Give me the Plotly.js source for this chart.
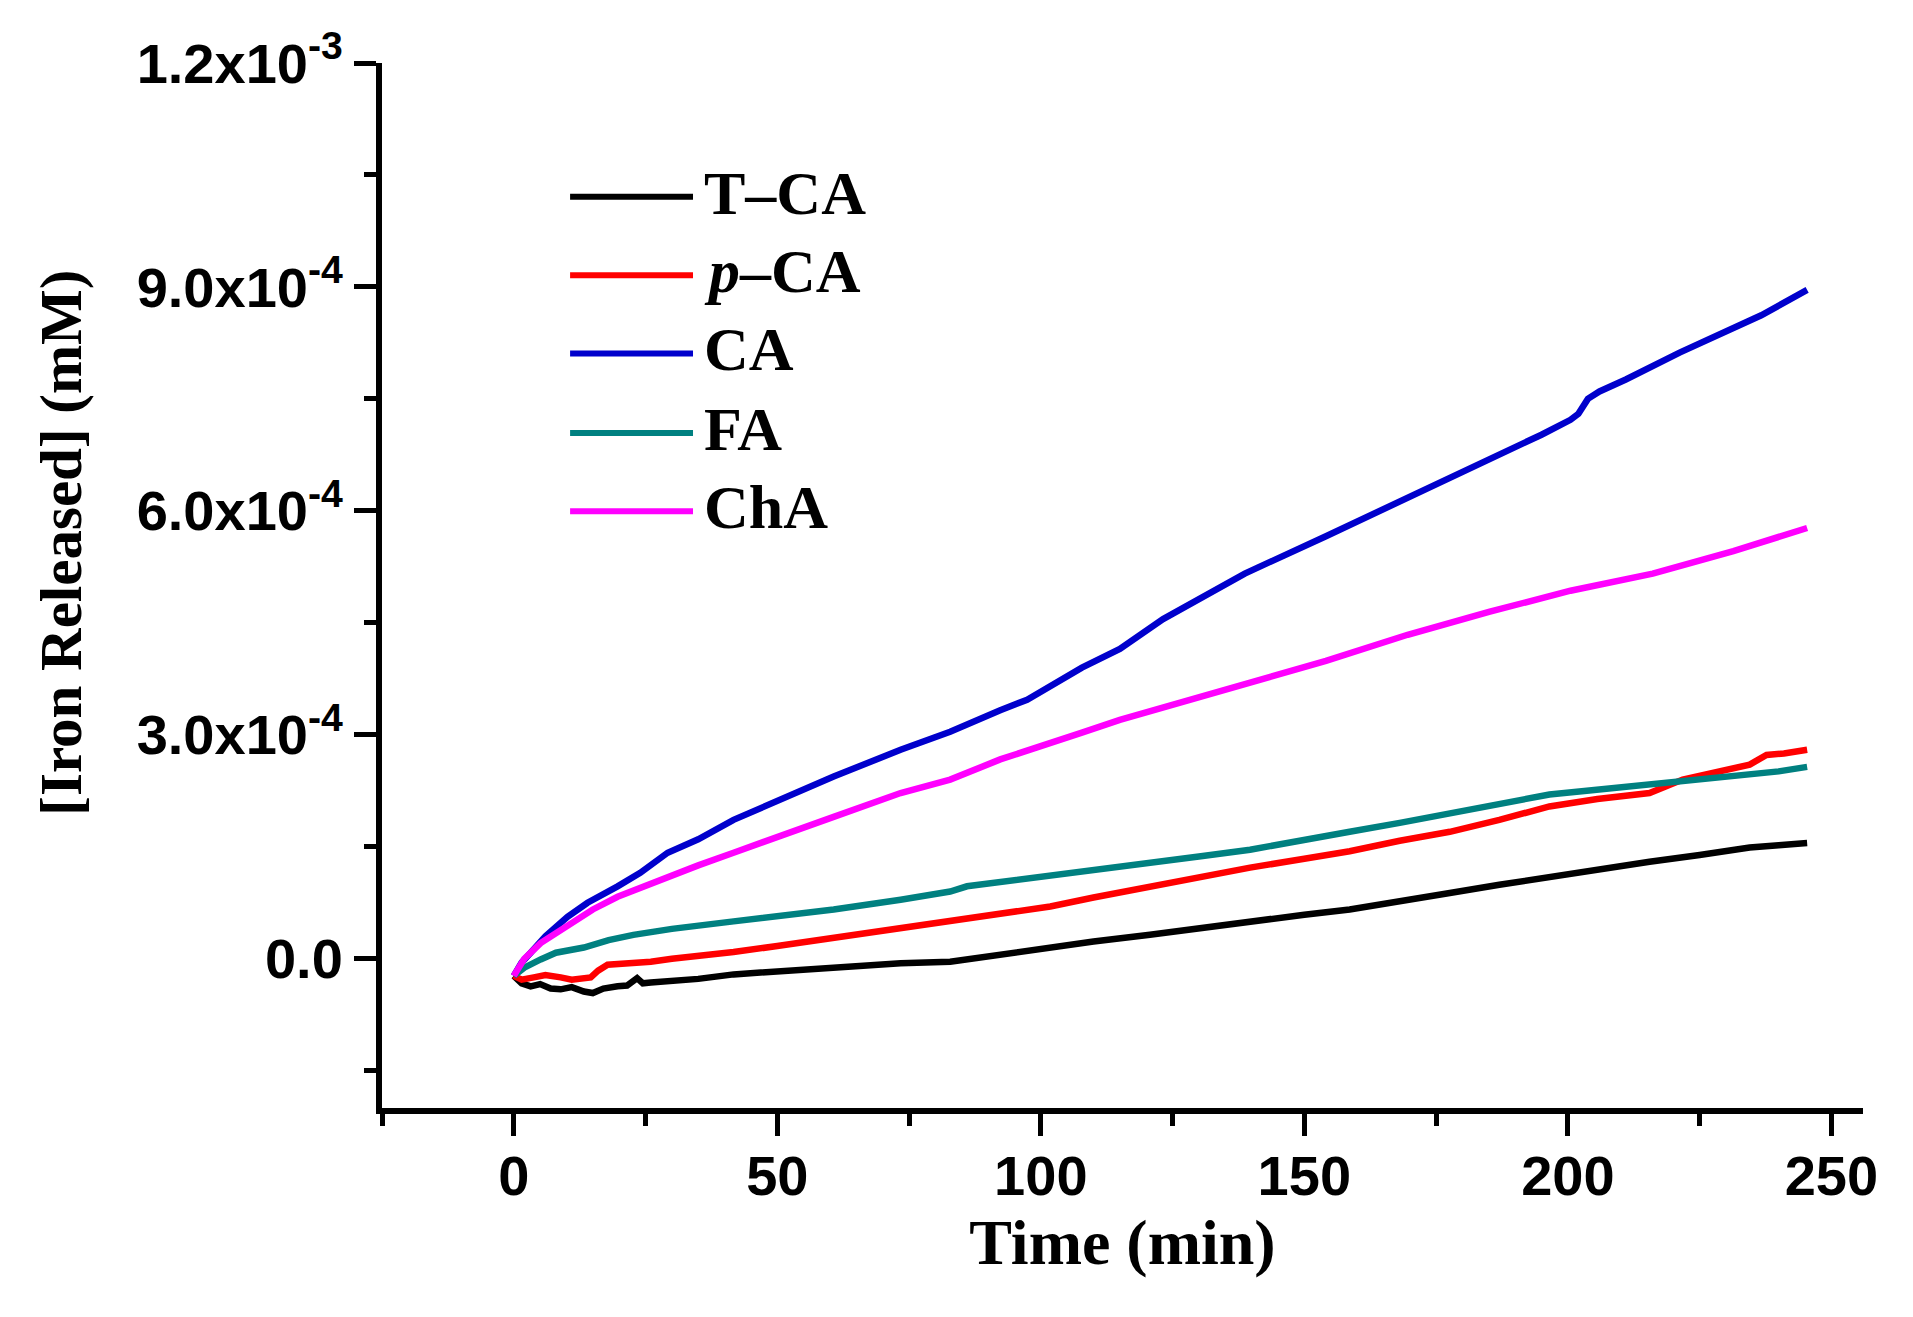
<!DOCTYPE html>
<html>
<head>
<meta charset="utf-8">
<script src="https://cdn.plot.ly/plotly-3.0.1.min.js"></script>
<style>
  body { margin: 0; background: #fff; }
  #chart { width: 1913px; height: 1317px; }
</style>
</head>
<body>
<div id="chart"></div>
<script>
// values, concentrations in units of 1e-4 mM
var tcaTime = [0, 1.5, 3.2, 5, 7, 8.9, 11, 13.3, 15, 17, 19.7, 21.5, 23.4, 24.5, 26, 30, 35, 41.7, 50, 60.7,
               73.4, 82.8, 92.3, 101.8, 110, 120.7, 130, 139.7, 150, 158.6, 168.1, 177.6, 187, 196.5, 205,
               215.5, 225, 234.5, 240, 245.4];
var tcaE4 = [-0.23, -0.33, -0.37, -0.34, -0.40, -0.41, -0.38, -0.44, -0.46, -0.40, -0.37, -0.36, -0.26, -0.33,
             -0.32, -0.30, -0.27, -0.21, -0.17, -0.12, -0.06, -0.04, 0.06, 0.15, 0.23, 0.32, 0.41, 0.50, 0.59,
             0.66, 0.76, 0.88, 0.99, 1.10, 1.19, 1.30, 1.39, 1.49, 1.52, 1.55];

var pcaTime = [0, 1.5, 3.8, 6, 8.9, 11, 14.6, 16, 17.8, 20, 23, 26, 30, 35, 41.7, 50, 60.7, 73.4, 82.8, 92.3,
               101.8, 110, 120.7, 130, 139.7, 150, 158.6, 168.1, 177.6, 187, 196.5, 205.6, 215.5, 221.8, 228,
               234.5, 237.7, 241, 245.4];
var pcaE4 = [-0.23, -0.28, -0.25, -0.22, -0.25, -0.28, -0.25, -0.16, -0.08, -0.07, -0.05, -0.04, 0.0, 0.03,
             0.09, 0.17, 0.28, 0.41, 0.50, 0.60, 0.70, 0.82, 0.97, 1.09, 1.22, 1.34, 1.44, 1.58, 1.70, 1.86,
             2.04, 2.14, 2.22, 2.40, 2.50, 2.60, 2.73, 2.75, 2.80];

var caTime = [0, 1.5, 3.2, 6, 10.2, 14, 19.7, 24, 29.2, 35, 41.7, 50, 60.7, 73.4, 82.8, 92.3, 97.4, 107.8,
              115, 123.2, 138.7, 154.1, 169.6, 185.2, 195, 200.5, 202, 203.8, 206, 211, 221.2, 236.7, 245.4];
var caE4 = [-0.23, -0.05, 0.08, 0.30, 0.56, 0.75, 0.97, 1.15, 1.42, 1.60, 1.86, 2.12, 2.44, 2.80, 3.04, 3.33,
            3.47, 3.90, 4.15, 4.55, 5.16, 5.66, 6.17, 6.68, 7.02, 7.22, 7.30, 7.50, 7.60, 7.76, 8.12, 8.62, 8.96];

var faTime = [0, 2, 5.1, 8, 13.3, 18, 22.7, 30, 41.7, 50, 60.7, 73.4, 82.8, 86, 92.3, 101.8, 110, 120.7, 130,
              139.7, 150, 158.6, 168.1, 177.6, 187, 196.5, 205, 215.5, 225, 234.5, 240, 245.4];
var faE4 = [-0.23, -0.12, -0.01, 0.08, 0.15, 0.25, 0.32, 0.40, 0.50, 0.57, 0.66, 0.79, 0.90, 0.97, 1.03, 1.12,
            1.20, 1.29, 1.37, 1.46, 1.58, 1.70, 1.82, 1.95, 2.08, 2.20, 2.26, 2.33, 2.40, 2.46, 2.51, 2.57];

var chaTime = [0, 2, 5.1, 10.2, 15, 19.7, 24, 29.2, 35, 41.7, 50, 60.7, 73.4, 82.8, 92.3, 100, 107.8, 115,
               123.2, 138.7, 154.1, 169.6, 185.2, 200.5, 216.1, 231.4, 245.4];
var chaE4 = [-0.23, 0.0, 0.21, 0.43, 0.66, 0.83, 0.95, 1.10, 1.25, 1.42, 1.62, 1.90, 2.22, 2.40, 2.67, 2.86,
             3.03, 3.20, 3.37, 3.68, 3.99, 4.34, 4.65, 4.93, 5.16, 5.46, 5.77];

var seriesNames = ['T\u2013CA', '<i>p</i>\u2013CA', 'CA', 'FA', 'ChA'];
var seriesColors = ['#000000', '#ff0000', '#0000cc', '#008080', '#ff00ff'];

var yTickVals = [0, 3e-4, 6e-4, 9e-4, 1.2e-3];
var yTickText = ['0.0', '3.0x10<sup>-4</sup>', '6.0x10<sup>-4</sup>', '9.0x10<sup>-4</sup>', '1.2x10<sup>-3</sup>'];
var xTickVals = [0, 50, 100, 150, 200, 250];

function toMM(arr) { return arr.map(function (v) { return v * 1e-4; }); }

var times = [tcaTime, pcaTime, caTime, faTime, chaTime];
var values = [tcaE4, pcaE4, caE4, faE4, chaE4];

var data = [];
for (var i = 0; i < times.length; i++) {
  data.push({
    type: 'scatter',
    mode: 'lines',
    x: times[i],
    y: toMM(values[i]),
    name: seriesNames[i],
    line: { color: seriesColors[i], width: 6.5 },
    showlegend: false
  });
}

// hand-made legend: long line samples like the original
var legendRowY = [0.872, 0.797, 0.722, 0.646, 0.571];
var shapes = [];
var annotations = [];
for (var j = 0; j < seriesNames.length; j++) {
  shapes.push({
    type: 'line', xref: 'paper', yref: 'paper',
    x0: 0.127, x1: 0.210, y0: legendRowY[j], y1: legendRowY[j],
    line: { color: seriesColors[j], width: 6 }
  });
  annotations.push({
    xref: 'paper', yref: 'paper', x: 0.216, y: legendRowY[j] + 0.004,
    xanchor: 'left', yanchor: 'middle', showarrow: false,
    text: seriesNames[j],
    font: { family: 'Liberation Serif, Times New Roman, serif', size: 62, color: '#000', weight: 'bold' }
  });
}

annotations.push({
  xref: 'paper', yref: 'paper', x: -0.2167, y: 0.541,
  xanchor: 'center', yanchor: 'middle', textangle: -90, showarrow: false,
  text: '[Iron Released] (mM)',
  font: { family: 'Liberation Serif, Times New Roman, serif', size: 59, color: '#000', weight: 'bold' }
});

var layout = {
  width: 1913,
  height: 1317,
  margin: { l: 382, r: 50, t: 63, b: 209 },
  paper_bgcolor: '#fff',
  plot_bgcolor: '#fff',
  hovermode: false,
  showlegend: false,
  xaxis: {
    range: [-25, 256],
    tickmode: 'array',
    tickvals: xTickVals,
    ticks: 'outside', ticklen: 22, tickwidth: 5, tickcolor: '#000',
    ticklabelstandoff: -8,
    minor: { ticks: 'outside', ticklen: 12, tickwidth: 5, tickcolor: '#000', dtick: 25, tick0: 0, showgrid: false },
    showline: true, linewidth: 6, linecolor: '#000',
    showgrid: false, zeroline: false, mirror: false,
    tickfont: { family: 'Liberation Sans, Arial, sans-serif', size: 56, color: '#000', weight: 'bold' },
    title: {
      text: 'Time (min)', standoff: 10,
      font: { family: 'Liberation Serif, Times New Roman, serif', size: 64, color: '#000', weight: 'bold' }
    }
  },
  yaxis: {
    range: [-2e-4, 1.2e-3],
    tickmode: 'array',
    tickvals: yTickVals,
    ticktext: yTickText,
    ticks: 'outside', ticklen: 22, tickwidth: 5, tickcolor: '#000',
    minor: { ticks: 'outside', ticklen: 12, tickwidth: 5, tickcolor: '#000', dtick: 1.5e-4, tick0: 0, showgrid: false },
    showline: true, linewidth: 6, linecolor: '#000',
    showgrid: false, zeroline: false, mirror: false,
    tickfont: { family: 'Liberation Sans, Arial, sans-serif', size: 56, color: '#000', weight: 'bold' }
  },
  shapes: shapes,
  annotations: annotations
};

Plotly.newPlot('chart', data, layout, { displayModeBar: false, staticPlot: true });
</script>
</body>
</html>
